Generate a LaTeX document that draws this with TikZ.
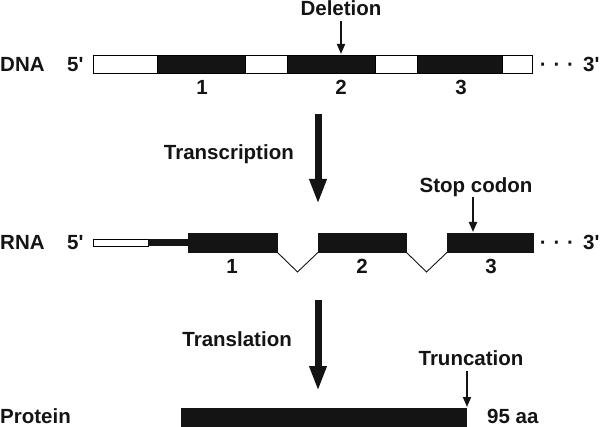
\documentclass[tikz,border=0pt]{standalone}
\usepackage{fontspec}
\setmainfont{Liberation Sans}
\usetikzlibrary{arrows.meta}
\tikzset{
  x=1pt, y=-1pt,
  lbl/.style={font=\fontsize{20.5}{24}\selectfont\bfseries, inner sep=0pt, text=black!92},
  seg/.style={draw=black, line width=0.8pt, inner sep=0pt, minimum height=18pt, anchor=north west},
  whiteseg/.style={seg, fill=white},
  blackseg/.style={seg, fill=black!92},
  exon/.style={fill=black!92, draw=black!92, inner sep=0pt, minimum height=19pt, anchor=north west},
  bigarrow/.style={line width=7pt, draw=black!92, -{Triangle[length=25pt,width=16pt]}},
  smallarrow/.style={line width=1.8pt, draw=black!92, -{Triangle[length=10pt,width=8pt]}},
  intron/.style={line width=0.9pt, draw=black!92}
}
\begin{document}
\begin{tikzpicture}
\useasboundingbox (0,0) rectangle (601,427);
% ---------------- DNA ----------------
\node[lbl, anchor=base west] (dnalbl) at (0,72) {DNA};
\node[lbl, anchor=base west] (dna5) at (67,72) {5\textquotesingle};
\node[whiteseg, minimum width=64pt] (d1) at (93,55) {};
\node[blackseg, minimum width=88pt] (d2) at (157,55) {};
\node[whiteseg, minimum width=42pt] (d3) at (245,55) {};
\node[blackseg, minimum width=88pt] (d4) at (287,55) {};
\node[whiteseg, minimum width=42pt] (d5) at (375,55) {};
\node[blackseg, minimum width=85pt] (d6) at (417,55) {};
\node[whiteseg, minimum width=30pt] (d7) at (502,55) {};
\node[lbl, anchor=base] (dnadots) at (557,72) {·\,\,·\,\,·};
\node[lbl, anchor=base west] (dna3) at (583,72) {3\textquotesingle};
\node[lbl, anchor=base] (dn1) at (202,95) {1};
\node[lbl, anchor=base] (dn2) at (341,95) {2};
\node[lbl, anchor=base] (dn3) at (461,95) {3};
\node[lbl, anchor=base] (del) at (341,16) {Deletion};
\coordinate (delS) at (341,21);
\coordinate (delE) at (341,54);
\draw[smallarrow] (delS) -- (delE);
% ---------------- Transcription ----------------
\coordinate (tsS) at (318,114);
\coordinate (tsE) at (318,204);
\draw[bigarrow] (tsS) -- (tsE);
\node[lbl, anchor=base east] (ts) at (294,160) {Transcription};
% ---------------- RNA ----------------
\node[lbl, anchor=base west] (rnalbl) at (0,249) {RNA};
\node[lbl, anchor=base west] (rna5) at (67,249) {5\textquotesingle};
\node[draw=black, line width=0.8pt, fill=white, inner sep=0pt, minimum width=55pt, minimum height=7pt, anchor=north west] (utr) at (93,239) {};
\node[fill=black!92, inner sep=0pt, minimum width=40pt, minimum height=7pt, anchor=north west] (utrb) at (148,239) {};
\node[exon, minimum width=89pt] (e1) at (188,233) {};
\node[exon, minimum width=88pt] (e2) at (318,233) {};
\node[exon, minimum width=86pt] (e3) at (447,233) {};
\coordinate (i1) at (297.5,272);
\coordinate (i2) at (426.5,272);
\draw[intron] (e1.south east) -- (i1) -- (e2.south west);
\draw[intron] (e2.south east) -- (i2) -- (e3.south west);
\node[lbl, anchor=base] (rnadots) at (557,249) {·\,\,·\,\,·};
\node[lbl, anchor=base west] (rna3) at (583,249) {3\textquotesingle};
\node[lbl, anchor=base] (rn1) at (232,273) {1};
\node[lbl, anchor=base] (rn2) at (362,273) {2};
\node[lbl, anchor=base] (rn3) at (491,273) {3};
\node[lbl, anchor=base] (stop) at (476,193) {Stop codon};
\coordinate (stS) at (473,197);
\coordinate (stE) at (473,232);
\draw[smallarrow] (stS) -- (stE);
% ---------------- Translation ----------------
\coordinate (tlS) at (318,300);
\coordinate (tlE) at (318,391);
\draw[bigarrow] (tlS) -- (tlE);
\node[lbl, anchor=base east] (tl) at (292,346) {Translation};
% ---------------- Protein ----------------
\node[lbl, anchor=base west] (protlbl) at (0,423) {Protein};
\node[fill=black!92, inner sep=0pt, minimum width=286pt, minimum height=22pt, anchor=north west] (prot) at (181,408) {};
\node[lbl, anchor=base west] (aa) at (487,423) {95 aa};
\node[lbl, anchor=base] (trunc) at (471,365) {Truncation};
\coordinate (trS) at (467,371);
\coordinate (trE) at (467,407);
\draw[smallarrow] (trS) -- (trE);
\end{tikzpicture}
\end{document}
